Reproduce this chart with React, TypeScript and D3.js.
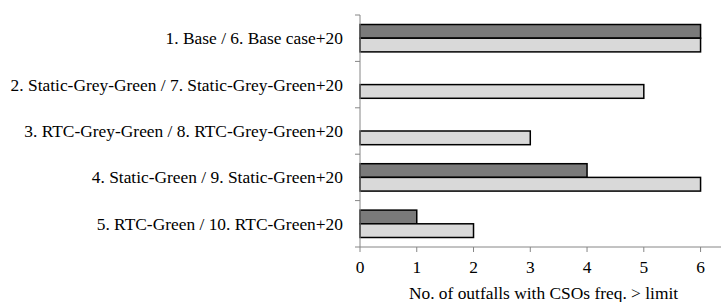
import React, { useEffect, useRef } from 'react';
import * as d3 from 'd3';

const categories = [
  '1. Base / 6. Base case+20',
  '2. Static-Grey-Green / 7. Static-Grey-Green+20',
  '3. RTC-Grey-Green / 8. RTC-Grey-Green+20',
  '4. Static-Green / 9. Static-Green+20',
  '5. RTC-Green / 10. RTC-Green+20',
];
// dark bars = +20 scenarios, light bars = base scenarios
const plus20 = [6, 0, 0, 4, 1];
const base = [6, 5, 3, 6, 2];
const xTicks = [0, 1, 2, 3, 4, 5, 6];
const xTitle = 'No. of outfalls with CSOs freq. > limit';

export default function App() {
  const ref = useRef<SVGSVGElement>(null);

  useEffect(() => {
    const svg = d3.select(ref.current);
    svg.selectAll('*').remove();

    const width = 721;
    const height = 302;
    const margin = { top: 15, left: 360, bottom: 55, right: 0 };
    const iwidth = width - margin.left - margin.right;
    const iheight = height - margin.top - margin.bottom;
    const fs = 17.4;

    svg.attr('font-family', 'serif').attr('font-size', fs);

    const g = svg.append('g').attr('transform', `translate(${margin.left},${margin.top})`);

    const x = d3.scaleLinear().domain([0, 6.36]).range([0, iwidth]);
    const y = d3.scaleBand().domain(categories).range([0, iheight]).paddingInner(0.41).paddingOuter(0.205);
    const sub = d3.scaleBand().domain(['plus20', 'base']).range([0, y.bandwidth()]);

    const rows = categories.map((c, i) => ({ c, plus20: plus20[i], base: base[i] }));

    const grp = g.selectAll('g.row').data(rows).enter().append('g')
      .attr('class', 'row')
      .attr('transform', d => `translate(0,${y(d.c)})`);

    grp.filter(d => d.plus20 > 0).append('rect')
      .attr('x', x(0))
      .attr('y', sub('plus20')!)
      .attr('width', d => x(d.plus20) - x(0))
      .attr('height', sub.bandwidth())
      .attr('fill', '#7a7a7a')
      .attr('stroke', '#000')
      .attr('stroke-width', 1.5);

    grp.append('rect')
      .attr('x', x(0))
      .attr('y', sub('base')!)
      .attr('width', d => x(d.base) - x(0))
      .attr('height', sub.bandwidth())
      .attr('fill', '#d9d9d9')
      .attr('stroke', '#000')
      .attr('stroke-width', 1.5);

    // y axis: ticks at category boundaries
    const step = y.step();
    const bounds = d3.range(categories.length + 1).map(i => i * step);
    const ya = g.append('g');
    ya.append('line').attr('x1', 0).attr('x2', 0).attr('y1', 0).attr('y2', iheight)
      .attr('stroke', '#868686').attr('stroke-width', 1);
    ya.selectAll('line.tk').data(bounds).enter().append('line')
      .attr('class', 'tk')
      .attr('x1', -5).attr('x2', 0)
      .attr('y1', d => d).attr('y2', d => d)
      .attr('stroke', '#868686');
    ya.selectAll('text').data(categories).enter().append('text')
      .attr('x', -17)
      .attr('y', d => y(d)! + y.bandwidth() / 2)
      .attr('dy', '0.35em')
      .attr('text-anchor', 'end')
      .attr('fill', '#000')
      .text(d => d);

    // x axis
    const xa = g.append('g').attr('transform', `translate(0,${iheight})`);
    xa.append('line').attr('x1', 0).attr('x2', iwidth).attr('y1', 0).attr('y2', 0)
      .attr('stroke', '#868686');
    xa.selectAll('line.tk').data(xTicks).enter().append('line')
      .attr('class', 'tk')
      .attr('x1', d => x(d)).attr('x2', d => x(d))
      .attr('y1', 0).attr('y2', 5)
      .attr('stroke', '#868686');
    xa.selectAll('text').data(xTicks).enter().append('text')
      .attr('x', d => x(d))
      .attr('y', 26)
      .attr('text-anchor', 'middle')
      .attr('fill', '#000')
      .text(d => d);

    g.append('text')
      .attr('x', iwidth / 2 + 3)
      .attr('y', iheight + 52)
      .attr('text-anchor', 'middle')
      .attr('fill', '#000')
      .text(xTitle);
  }, []);

  return (
    <svg ref={ref} width={721} height={302}
      style={{ position: 'absolute', left: 0, top: 0, background: '#fff' }} />
  );
}
